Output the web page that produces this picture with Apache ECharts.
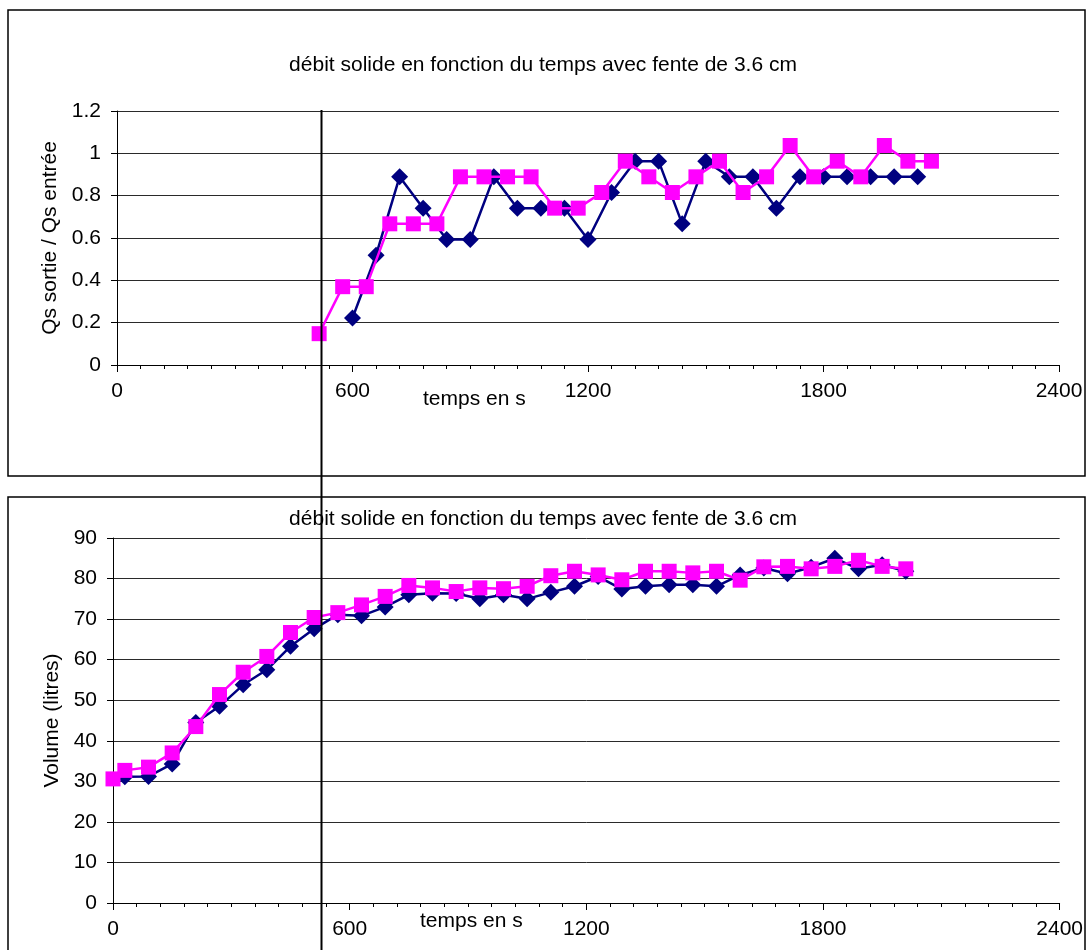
<!DOCTYPE html>
<html>
<head>
<meta charset="utf-8">
<script src="https://cdn.jsdelivr.net/npm/echarts@6/dist/echarts.min.js"></script>
<style>
html,body{margin:0;padding:0;background:#fff;}
#c{width:1086px;height:950px;}
</style>
</head>
<body>
<div id="c"></div>
<script>
// ---- data ----
var titleText = 'débit solide en fonction du temps avec fente de 3.6 cm';
var xName = 'temps en s';
var topYName = 'Qs sortie / Qs entrée';
var botYName = 'Volume (litres)';

// top chart: ratio Qs sortie / Qs entrée
var topPinkTimes = [515,575,635,695,755,815,875,935,995,1055,1115,1175,1235,1295,1355,1415,1475,1535,1595,1655,1715,1775,1835,1895,1955,2015,2075];
var topPinkValues = [0.148,0.37,0.37,0.667,0.667,0.667,0.889,0.889,0.889,0.889,0.741,0.741,0.815,0.963,0.889,0.815,0.889,0.963,0.815,0.889,1.037,0.889,0.963,0.889,1.037,0.963,0.963];
var topBlueTimes = [600,660,720,780,840,900,960,1020,1080,1140,1200,1260,1320,1380,1440,1500,1560,1620,1680,1740,1800,1860,1920,1980,2040];
var topBlueValues = [0.222,0.519,0.889,0.741,0.593,0.593,0.889,0.741,0.741,0.741,0.593,0.815,0.963,0.963,0.667,0.963,0.889,0.889,0.741,0.889,0.889,0.889,0.889,0.889,0.889];

// bottom chart: volume (litres)
var botPinkTimes = [0,30,90,150,210,270,330,390,450,510,570,630,690,750,810,870,930,990,1050,1110,1170,1230,1290,1350,1410,1470,1530,1590,1650,1710,1770,1830,1890,1950,2010];
var botPinkValues = [30.6,32.7,33.5,37.0,43.5,51.4,56.9,60.8,66.7,70.4,71.6,73.5,75.6,78.3,77.7,76.8,77.7,77.5,78.1,80.7,81.8,80.9,79.7,81.8,81.8,81.4,81.8,79.6,82.9,83.0,82.4,83.0,84.5,83.0,82.4];
var botBlueTimes = [30,90,150,210,270,330,390,450,510,570,630,690,750,810,870,930,990,1050,1110,1170,1230,1290,1350,1410,1470,1530,1590,1650,1710,1770,1830,1890,1950,2010];
var botBlueValues = [31.1,31.2,34.3,44.5,48.5,53.8,57.5,63.3,67.6,71.1,70.8,73.0,76.0,76.4,76.3,75.0,76.0,75.0,76.6,78.1,80.5,77.4,78.1,78.5,78.5,78.1,80.9,82.6,81.2,82.8,85.0,82.4,83.4,81.8];

function pairs(xs, ys){ return xs.map(function(x,i){ return [x, ys[i]]; }); }
function plain(v){ return String(Math.round(v*1000)/1000); }

var FONT = '"Liberation Sans", Arial, sans-serif';
var BLUE = '#000080', PINK = '#ff00ff';

function xAxisCfg(gi){
  return {
    gridIndex: gi, type:'value', min:0, max:2400, interval:600,
    axisLine:{show:true, onZero:false, lineStyle:{color:'#000', width:1}},
    axisTick:{show:true, length:7, lineStyle:{color:'#000'}},
    minorTick:{show:true, splitNumber:10, length:4, lineStyle:{color:'#000'}},
    splitLine:{show:false},
    axisLabel:{color:'#000', fontFamily:FONT, fontSize:21, margin:16, formatter:plain}
  };
}
function yAxisCfg(gi, min, max, interval, name, gap){
  return {
    gridIndex: gi, type:'value', min:min, max:max, interval:interval,
    name:name, nameLocation:'middle', nameGap:gap,
    nameTextStyle:{color:'#000', fontFamily:FONT, fontSize:21},
    axisLine:{show:true, lineStyle:{color:'#000', width:1}},
    axisTick:{show:true, length:6, lineStyle:{color:'#000'}},
    splitLine:{show:true, lineStyle:{color:'#2a2a2a', width:1}},
    axisLabel:{color:'#000', fontFamily:FONT, fontSize:21, margin:16, formatter:plain}
  };
}
function lineSeries(xi, data, color, symbol, size, z){
  return {
    type:'line', xAxisIndex:xi, yAxisIndex:xi, data:data,
    symbol:symbol, symbolSize:size, showAllSymbol:true,
    lineStyle:{color:color, width:2.5},
    itemStyle:{color:color},
    z:z, animation:false
  };
}

var chart = echarts.init(document.getElementById('c'), null, {renderer:'canvas'});
chart.setOption({
  backgroundColor:'#fff',
  animation:false,
  title:[
    {text:titleText, left:'center', top:50, textStyle:{color:'#000', fontFamily:FONT, fontSize:21, fontWeight:'normal'}},
    {text:titleText, left:'center', top:504, textStyle:{color:'#000', fontFamily:FONT, fontSize:21, fontWeight:'normal'}}
  ],
  grid:[
    {left:117, top:111, width:942, height:254},
    {left:113, top:538, width:947, height:365}
  ],
  xAxis:[xAxisCfg(0), xAxisCfg(1)],
  yAxis:[
    yAxisCfg(0, 0, 1.2, 0.2, topYName, 55),
    yAxisCfg(1, 0, 90, 10, botYName, 50)
  ],
  series:[
    lineSeries(0, pairs(topBlueTimes, topBlueValues), BLUE, 'diamond', 17, 3),
    lineSeries(0, pairs(topPinkTimes, topPinkValues), PINK, 'rect', 15, 4),
    lineSeries(1, pairs(botBlueTimes, botBlueValues), BLUE, 'diamond', 17, 3),
    lineSeries(1, pairs(botPinkTimes, botPinkValues), PINK, 'rect', 15, 4)
  ],
  graphic:[
    {type:'rect', shape:{x:8, y:10, width:1077, height:466}, style:{fill:'none', stroke:'#000', lineWidth:1.5}, z:0, silent:true},
    {type:'rect', shape:{x:8, y:497, width:1077, height:470}, style:{fill:'none', stroke:'#000', lineWidth:1.5}, z:0, silent:true},
    {type:'text', left:423, top:389, style:{text:xName, fill:'#000', font:'21px ' + FONT}, z:10},
    {type:'text', left:420, top:911, style:{text:xName, fill:'#000', font:'21px ' + FONT}, z:10},
    {type:'line', shape:{x1:321.5, y1:110, x2:321.5, y2:950}, style:{stroke:'#000', lineWidth:2}, z:100, silent:true}
  ]
});
</script>
</body>
</html>
